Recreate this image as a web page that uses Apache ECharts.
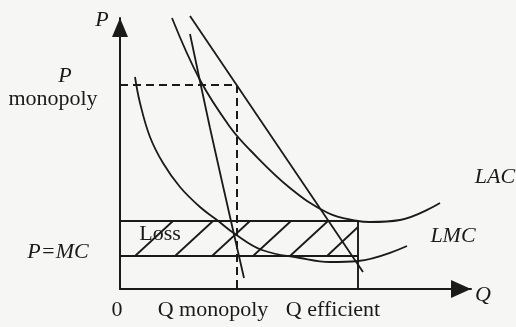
<!DOCTYPE html>
<html><head><meta charset="utf-8">
<script src="https://cdn.jsdelivr.net/npm/echarts@6/dist/echarts.min.js"></script>
<style>html,body{margin:0;padding:0;background:#f6f6f4}#c{width:516px;height:327px}</style>
</head><body><div id="c"></div>
<script>
// Data (Q units on x, P units on y)
const demandCurve = [[7.0, 27.3], [24.3, 1.7]];
const mrCurve = [[7.0, 25.5], [9.0, 16.1], [11.3, 5.9], [12.4, 1.1]];
const lacCurve = [[5.2, 27.1], [8.0, 20.9], [11.0, 16.2], [13.0, 13.9], [17.0, 10.1], [20.8, 7.6], [23.8, 6.8], [25.0, 6.7], [28.0, 6.9], [32.0, 8.6]];
const lmcCurve = [[1.5, 21.2], [2.0, 18.6], [3.0, 15.2], [4.3, 12.6], [6.0, 10.2], [8.0, 8.2], [9.7, 6.9], [11.5, 5.5], [14.2, 3.9], [18.0, 3.1], [21.0, 2.7], [23.8, 2.8], [28.7, 4.3]];
const qMonopoly = 11.7, pMonopoly = 20.4;
const qEfficient = 23.8;
const lacAtEfficient = 6.8, pEqualsMC = 3.3;
const hatchBottomX = [1.5, 5.5, 9.2, 13.3, 17.0, 20.7];
const hatchTopX = [5.3, 9.3, 13.0, 17.1, 20.8, 23.8];
const hatchTopY = [6.8, 6.8, 6.8, 6.8, 6.8, 6.2];
const axisMax = { q: 35.1, p: 27.1 };

const ink = '#1a1a1a';
const serif = '"Liberation Serif", "DejaVu Serif", serif';

function lineSeries(data, width, extra) {
  return Object.assign({
    type: 'line', data: data, showSymbol: false, symbol: 'none', clip: false, silent: true,
    lineStyle: { color: ink, width: width }
  }, extra || {});
}

const series = [
  lineSeries(demandCurve, 1.8),
  lineSeries(mrCurve, 1.8, { smooth: 0.3 }),
  lineSeries(lacCurve, 1.8, { smooth: 0.4 }),
  lineSeries(lmcCurve, 1.8, { smooth: 0.4 }),
  lineSeries([[0, pMonopoly], [qMonopoly, pMonopoly], [qMonopoly, 0]], 2, { lineStyle: { color: ink, width: 2, type: [8, 5] } }),
  lineSeries([[0, lacAtEfficient], [qEfficient, lacAtEfficient], [qEfficient, 0]], 1.9),
  lineSeries([[0, pEqualsMC], [qEfficient, pEqualsMC]], 1.9)
];
hatchBottomX.forEach(function (bx, i) {
  series.push(lineSeries([[bx, pEqualsMC], [hatchTopX[i], hatchTopY[i]]], 1.8));
});

function txt(t, x, y, italic, size) {
  return {
    type: 'text', x: x, y: y, silent: true,
    style: {
      text: t, font: (italic ? 'italic ' : '') + (size || 22) + 'px ' + serif, fill: ink,
      textAlign: 'center', textVerticalAlign: 'middle', align: 'center', verticalAlign: 'middle'
    }
  };
}

const chart = echarts.init(document.getElementById('c'), null, { renderer: 'canvas' });
chart.setOption({
  animation: false,
  backgroundColor: '#f6f6f4',
  grid: { left: 120, top: 18, right: 45, bottom: 38 },
  xAxis: {
    type: 'value', min: 0, max: axisMax.q,
    axisLine: { show: true, lineStyle: { color: ink, width: 2 }, symbol: ['none', 'triangle'], symbolSize: [18, 20], symbolOffset: [0, -10] },
    axisTick: { show: false }, axisLabel: { show: false }, splitLine: { show: false }
  },
  yAxis: {
    type: 'value', min: 0, max: axisMax.p,
    axisLine: { show: true, lineStyle: { color: ink, width: 2 }, symbol: ['none', 'triangle'], symbolSize: [16, 19], symbolOffset: [0, -9.5] },
    axisTick: { show: false }, axisLabel: { show: false }, splitLine: { show: false }
  },
  series: series,
  graphic: [
    txt('P', 102, 20, true),
    txt('P', 65, 76, true),
    txt('monopoly', 53, 99, false),
    txt('P=MC', 58, 252, true),
    txt('Loss', 160, 234, false),
    txt('0', 117, 310, false),
    txt('Q monopoly', 213, 310, false),
    txt('Q efficient', 333, 310, false),
    txt('Q', 483, 295, true),
    txt('LAC', 495, 177, true),
    txt('LMC', 453, 236, true)
  ]
});
</script></body></html>
